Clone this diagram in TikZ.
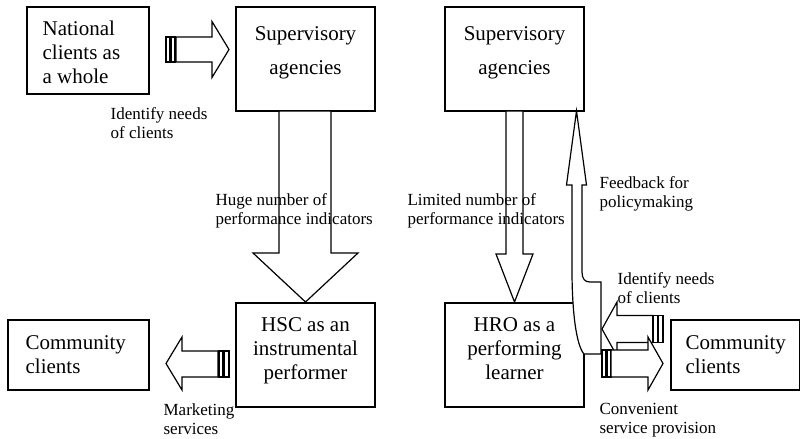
\documentclass[tikz,border=0pt]{standalone}
\usepackage{fontspec}
\setmainfont{Liberation Serif}
\begin{document}
\begin{tikzpicture}[x=1pt,y=-1pt,line width=1.2pt,
  box/.style={draw,rectangle,inner sep=0pt},
  big/.style={font=\fontsize{21}{24}\selectfont,inner sep=0pt},
  small/.style={font=\fontsize{17}{19}\selectfont,inner sep=0pt,anchor=north west,align=left},
  blk/.style={draw,fill=white,line join=miter}]
\useasboundingbox (0,0) rectangle (801,439);
% boxes
\node[box,minimum width=122pt,minimum height=87pt] (nat) at (88,50.5) {};
\node[box,minimum width=139pt,minimum height=104pt] (sup1) at (305.5,59) {};
\node[box,minimum width=139pt,minimum height=104pt] (sup2) at (514.5,59) {};
\node[box,minimum width=139pt,minimum height=104pt] (hsc) at (305.5,355) {};
\node[box,minimum width=139pt,minimum height=104pt] (hro) at (514.5,355) {};
\node[box,minimum width=141pt,minimum height=70pt] (com1) at (78.5,355) {};
\node[box,minimum width=128.5pt,minimum height=70pt] (com2) at (735.25,355) {};
% box texts
\node[big,anchor=north west,align=left] (natT) at (42,20) {National\\clients as\\a whole};
\node[big,anchor=north,align=center] (sup1T) at (305.5,26) {Supervisory\\[10pt]agencies};
\node[big,anchor=north,align=center] (sup2T) at (514.5,26) {Supervisory\\[10pt]agencies};
\node[big,anchor=north,align=center] (hscT) at (305.5,317) {HSC as an\\instrumental\\performer};
\node[big,anchor=north,align=center] (hroT) at (514.5,317) {HRO as a\\performing\\learner};
\node[big,anchor=north west,align=left] (com1T) at (25,335) {Community\\clients};
\node[big,anchor=north west,align=left] (com2T) at (685,335) {Community\\clients};
% arrow 1: national -> supervisory
\draw[blk] (166,37) rectangle (170,62);
\draw[blk] (171,37) rectangle (175,62);
\draw[blk] (176,37) -- (212,37) -- (212,21.5) -- (229,49.5) -- (212,77.5) -- (212,62) -- (176,62) -- cycle;
% arrow 2: HSC -> community
\draw[blk] (166,363.5) -- (182,337) -- (182,351) -- (218,351) -- (218,377) -- (182,377) -- (182,390) -- cycle;
\draw[blk] (219,351) rectangle (223,377);
\draw[blk] (224,351) rectangle (229,377);
% arrow 3: huge number
\draw[blk] (279,111) -- (279,253) -- (253,253) -- (305.5,302) -- (358,253) -- (331,253) -- (331,111) -- cycle;
% arrow 4: limited number
\draw[blk] (506,111) -- (506,254) -- (496,254) -- (514.5,302) -- (533,254) -- (523,254) -- (523,111) -- cycle;
% arrow 5: feedback
\draw[blk] (576.5,111) -- (586.5,185) -- (582,185) -- (582,272) .. controls (582,279) and (585,282) .. (590,282)
  -- (601,282) -- (601,354) -- (584,354) .. controls (576,345) and (572,310) .. (572,270) -- (572,185) -- (566.5,185) -- cycle;
% arrow 6: identify needs (right)
\draw[blk] (602,329) -- (617,302) -- (617,315.5) -- (653,315.5) -- (653,342.5) -- (617,342.5) -- (617,356) -- cycle;
\draw[blk] (653,315.5) rectangle (657.5,342.5);
\draw[blk] (658.5,315.5) rectangle (663,342.5);
% arrow 7: convenient service
\draw[blk] (602,350) rectangle (606,377);
\draw[blk] (607,350) rectangle (611,377);
\draw[blk] (611,350) -- (648,350) -- (648,337) -- (663,363.5) -- (648,390) -- (648,377) -- (611,377) -- cycle;
% labels
\node[small] (l1) at (110,107) {Identify needs\\of clients};
\node[small] (l2) at (215,193) {Huge number of\\performance indicators};
\node[small] (l3) at (407,193) {Limited number of\\performance indicators};
\node[small] (l4) at (599,176) {Feedback for\\policymaking};
\node[small] (l5) at (617,272) {Identify needs\\of clients};
\node[small] (l6) at (163,403) {Marketing\\services};
\node[small] (l7) at (599,403) {Convenient\\service provision};
\end{tikzpicture}
\end{document}
